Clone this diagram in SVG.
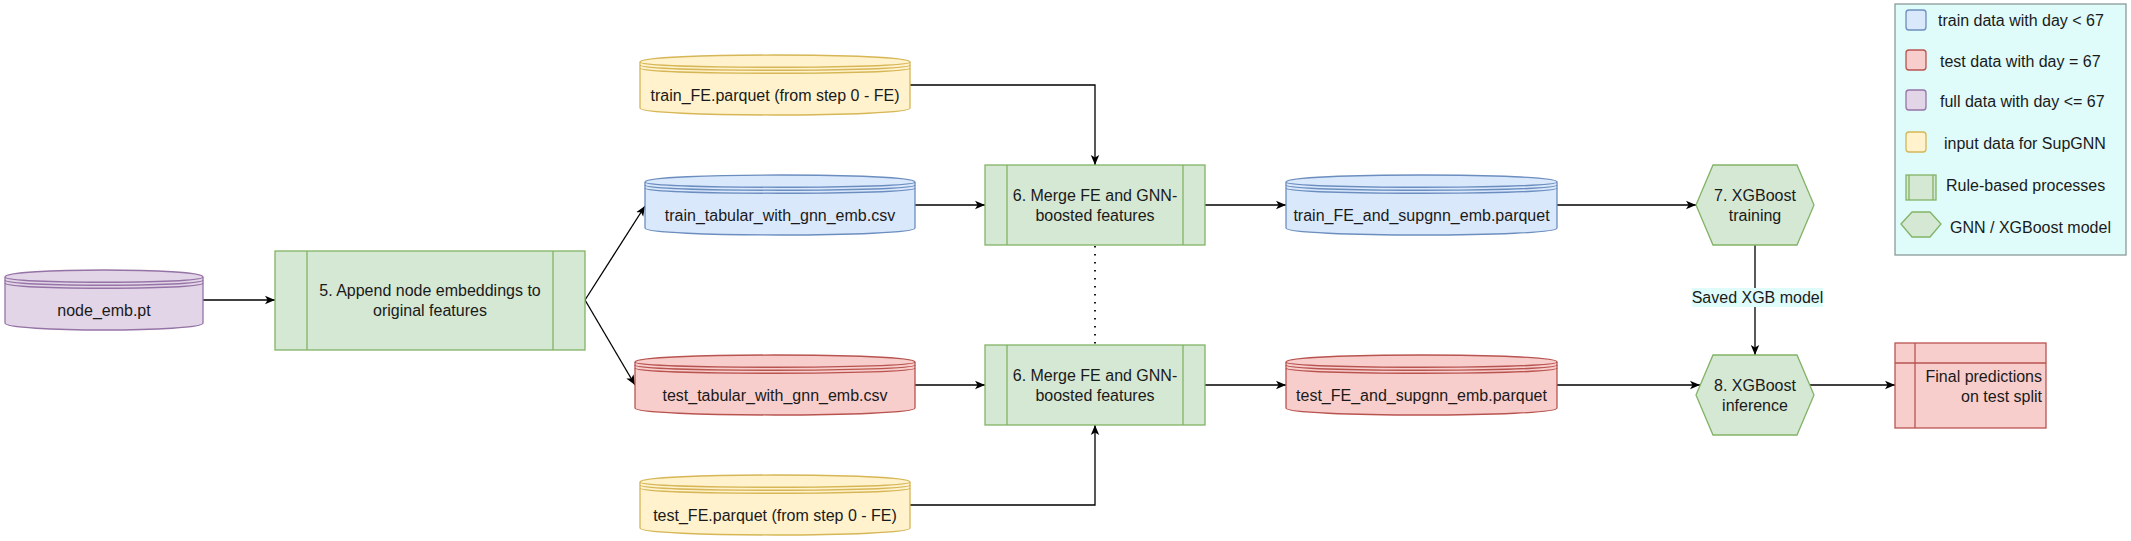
<svg xmlns="http://www.w3.org/2000/svg" width="2131" height="541" viewBox="0 0 2131 541">
<defs>
<style>
text{font-family:"Liberation Sans",Arial,Helvetica,sans-serif;font-size:16px;fill:#1a1a1a;text-anchor:middle}
.st{text-anchor:start}
.en{text-anchor:end}
.blue{fill:#dae8fc;stroke:#6c8ebf;stroke-width:1.3}
.red{fill:#f8cecc;stroke:#b85450;stroke-width:1.3}
.purple{fill:#e1d5e7;stroke:#9673a6;stroke-width:1.3}
.yellow{fill:#fff2cc;stroke:#d6b656;stroke-width:1.3}
.green{fill:#d5e8d4;stroke:#82b366;stroke-width:1.3}
.arc{fill:none;stroke-width:1.3}
.arc.blue,.arc.red,.arc.purple,.arc.yellow{fill:none}
.edge{fill:none;stroke:#000;stroke-width:1.3}
.dot{fill:none;stroke:#000;stroke-width:1.8;stroke-dasharray:1.6 6.4}
.legend{fill:#dffcfa;stroke:#8a9a9a;stroke-width:1.3}
.lbl{fill:#dffcfb;stroke:none}
</style>
<marker id="arr" viewBox="0 0 10 10" refX="10" refY="5" markerWidth="10" markerHeight="10" markerUnits="userSpaceOnUse" orient="auto">
<path d="M0,0.8 L10,5 L0,9.2 L2.6,5 Z" fill="#000"/>
</marker>
</defs>
<rect width="2131" height="541" fill="#fff"/>

<g id="connectors">
<path class="edge" d="M203,300 L275,300" marker-end="url(#arr)"/>
<path class="edge" d="M585,300 L645,206" marker-end="url(#arr)"/>
<path class="edge" d="M585,300 L635,385" marker-end="url(#arr)"/>
<path class="edge" d="M910,85 L1095,85 L1095,165" marker-end="url(#arr)"/>
<path class="edge" d="M915,205 L985,205" marker-end="url(#arr)"/>
<path class="edge" d="M1205,205 L1286,205" marker-end="url(#arr)"/>
<path class="edge" d="M1557,205 L1696,205" marker-end="url(#arr)"/>
<path class="dot" d="M1095,246 L1095,345"/>
<path class="edge" d="M915,385 L985,385" marker-end="url(#arr)"/>
<path class="edge" d="M910,505 L1095,505 L1095,425" marker-end="url(#arr)"/>
<path class="edge" d="M1205,385 L1286,385" marker-end="url(#arr)"/>
<path class="edge" d="M1557,385 L1700,385" marker-end="url(#arr)"/>
<path class="edge" d="M1755,245 L1755,355" marker-end="url(#arr)"/>
<path class="edge" d="M1810,385 L1895,385" marker-end="url(#arr)"/>
<g id="edge-label">
<rect class="lbl" x="1692" y="288" width="131" height="19"/>
<text x="1757.5" y="303">Saved XGB model</text>
</g>
</g>

<g id="node_emb" transform="translate(5,270)">
<path class="purple" d="M0,7 C0,-2.33 198,-2.33 198,7 L198,53 C198,62.33 0,62.33 0,53 Z"/>
<path class="arc purple" d="M0,7 C0,14 198,14 198,7 M0,10 C0,17 198,17 198,10 M0,13 C0,20 198,20 198,13"/>
<text x="99" y="46">node_emb.pt</text>
</g>

<g id="append">
<rect class="green" x="275" y="251" width="310" height="99"/>
<path class="green" d="M307,251 L307,350 M553,251 L553,350"/>
<text x="430" y="296">5. Append node embeddings to</text>
<text x="430" y="316">original features</text>
</g>

<g id="train_FE" transform="translate(640,55)">
<path class="yellow" d="M0,7 C0,-2.33 270,-2.33 270,7 L270,53 C270,62.33 0,62.33 0,53 Z"/>
<path class="arc yellow" d="M0,7 C0,14 270,14 270,7 M0,10 C0,17 270,17 270,10 M0,13 C0,20 270,20 270,13"/>
<text x="135" y="46">train_FE.parquet (from step 0 - FE)</text>
</g>

<g id="train_tabular" transform="translate(645,175)">
<path class="blue" d="M0,7 C0,-2.33 270,-2.33 270,7 L270,53 C270,62.33 0,62.33 0,53 Z"/>
<path class="arc blue" d="M0,7 C0,14 270,14 270,7 M0,10 C0,17 270,17 270,10 M0,13 C0,20 270,20 270,13"/>
<text x="135" y="46">train_tabular_with_gnn_emb.csv</text>
</g>

<g id="test_tabular" transform="translate(635,355)">
<path class="red" d="M0,7 C0,-2.33 280,-2.33 280,7 L280,53 C280,62.33 0,62.33 0,53 Z"/>
<path class="arc red" d="M0,7 C0,14 280,14 280,7 M0,10 C0,17 280,17 280,10 M0,13 C0,20 280,20 280,13"/>
<text x="140" y="46">test_tabular_with_gnn_emb.csv</text>
</g>

<g id="test_FE" transform="translate(640,475)">
<path class="yellow" d="M0,7 C0,-2.33 270,-2.33 270,7 L270,53 C270,62.33 0,62.33 0,53 Z"/>
<path class="arc yellow" d="M0,7 C0,14 270,14 270,7 M0,10 C0,17 270,17 270,10 M0,13 C0,20 270,20 270,13"/>
<text x="135" y="46">test_FE.parquet (from step 0 - FE)</text>
</g>

<g id="merge_train">
<rect class="green" x="985" y="165" width="220" height="80"/>
<path class="green" d="M1007,165 L1007,245 M1183,165 L1183,245"/>
<text x="1095" y="201">6. Merge FE and GNN-</text>
<text x="1095" y="221">boosted features</text>
</g>

<g id="merge_test">
<rect class="green" x="985" y="345" width="220" height="80"/>
<path class="green" d="M1007,345 L1007,425 M1183,345 L1183,425"/>
<text x="1095" y="381">6. Merge FE and GNN-</text>
<text x="1095" y="401">boosted features</text>
</g>

<g id="train_FE_supgnn" transform="translate(1286,175)">
<path class="blue" d="M0,7 C0,-2.33 271,-2.33 271,7 L271,53 C271,62.33 0,62.33 0,53 Z"/>
<path class="arc blue" d="M0,7 C0,14 271,14 271,7 M0,10 C0,17 271,17 271,10 M0,13 C0,20 271,20 271,13"/>
<text x="135.5" y="46">train_FE_and_supgnn_emb.parquet</text>
</g>

<g id="test_FE_supgnn" transform="translate(1286,355)">
<path class="red" d="M0,7 C0,-2.33 271,-2.33 271,7 L271,53 C271,62.33 0,62.33 0,53 Z"/>
<path class="arc red" d="M0,7 C0,14 271,14 271,7 M0,10 C0,17 271,17 271,10 M0,13 C0,20 271,20 271,13"/>
<text x="135.5" y="46">test_FE_and_supgnn_emb.parquet</text>
</g>

<g id="xgb_train">
<polygon class="green" points="1696,205 1713,165 1797,165 1814,205 1797,245 1713,245"/>
<text x="1755" y="201">7. XGBoost</text>
<text x="1755" y="221">training</text>
</g>

<g id="xgb_infer">
<polygon class="green" points="1696,395 1713,355 1797,355 1814,395 1797,435 1713,435"/>
<text x="1755" y="391">8. XGBoost</text>
<text x="1755" y="411">inference</text>
</g>

<g id="final">
<rect class="red" x="1895" y="343" width="151" height="85"/>
<path class="red" d="M1915,343 L1915,428 M1895,363 L2046,363"/>
<text class="en" x="2042" y="382">Final predictions</text>
<text class="en" x="2042" y="402">on test split</text>
</g>

<g id="legend">
<rect class="legend" x="1895" y="4" width="231" height="251"/>
<rect class="blue" x="1906" y="10" width="20" height="20" rx="3"/>
<text class="st" x="1938" y="26">train data with day &lt; 67</text>
<rect class="red" x="1906" y="50" width="20" height="20" rx="3"/>
<text class="st" x="1940" y="67">test data with day = 67</text>
<rect class="purple" x="1906" y="90" width="20" height="20" rx="3"/>
<text class="st" x="1940" y="107">full data with day &lt;= 67</text>
<rect class="yellow" x="1906" y="132" width="20" height="20" rx="3"/>
<text class="st" x="1944" y="149">input data for SupGNN</text>
<rect class="green" x="1906" y="175" width="30" height="25"/>
<path class="green" d="M1909,175 L1909,200 M1933,175 L1933,200"/>
<text class="st" x="1946" y="191">Rule-based processes</text>
<polygon class="green" points="1901,224 1912,212 1930,212 1941,224 1930,237 1912,237"/>
<text class="st" x="1950" y="233">GNN / XGBoost model</text>
</g>
</svg>
